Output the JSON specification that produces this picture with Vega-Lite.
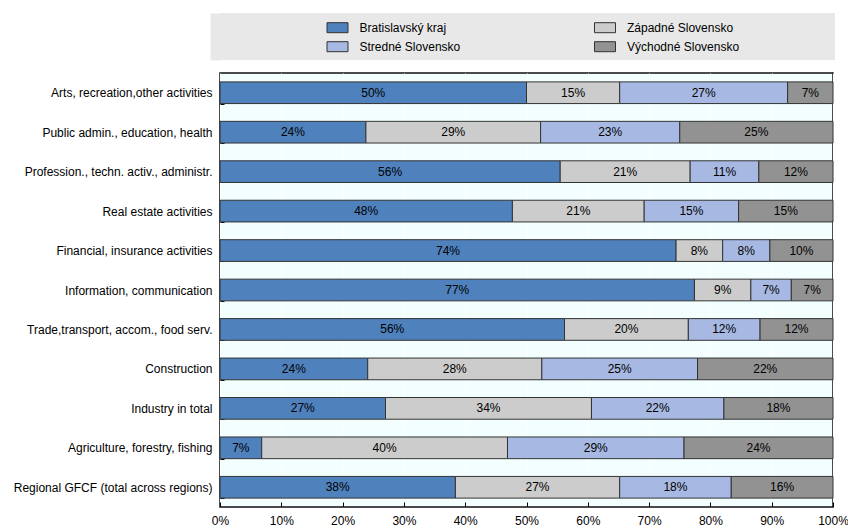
{
  "$schema": "https://vega.github.io/schema/vega-lite/v6.json",
  "background": "white",
  "padding": {"left": 0, "top": 13, "right": 0, "bottom": 0},
  "spacing": 6,
  "config": {
    "font": "Liberation Sans",
    "axis": {"labelFont": "Liberation Sans", "labelFontSize": 12, "labelColor": "#000"},
    "text": {"font": "Liberation Sans", "fontSize": 12, "color": "#000"}
  },
  "datasets": {
    "bars": [
      {"cat": "Arts, recreation,other activities", "region": "Bratislavský kraj", "k": 0, "v": 50.0, "lab": "50%"},
      {"cat": "Arts, recreation,other activities", "region": "Západné Slovensko", "k": 1, "v": 15.2, "lab": "15%"},
      {"cat": "Arts, recreation,other activities", "region": "Stredné Slovensko", "k": 2, "v": 27.4, "lab": "27%"},
      {"cat": "Arts, recreation,other activities", "region": "Východné Slovensko", "k": 3, "v": 7.4, "lab": "7%"},
      {"cat": "Public admin., education, health", "region": "Bratislavský kraj", "k": 0, "v": 23.8, "lab": "24%"},
      {"cat": "Public admin., education, health", "region": "Západné Slovensko", "k": 1, "v": 28.5, "lab": "29%"},
      {"cat": "Public admin., education, health", "region": "Stredné Slovensko", "k": 2, "v": 22.7, "lab": "23%"},
      {"cat": "Public admin., education, health", "region": "Východné Slovensko", "k": 3, "v": 25.0, "lab": "25%"},
      {"cat": "Profession., techn. activ., administr.", "region": "Bratislavský kraj", "k": 0, "v": 55.5, "lab": "56%"},
      {"cat": "Profession., techn. activ., administr.", "region": "Západné Slovensko", "k": 1, "v": 21.2, "lab": "21%"},
      {"cat": "Profession., techn. activ., administr.", "region": "Stredné Slovensko", "k": 2, "v": 11.2, "lab": "11%"},
      {"cat": "Profession., techn. activ., administr.", "region": "Východné Slovensko", "k": 3, "v": 12.1, "lab": "12%"},
      {"cat": "Real estate activities", "region": "Bratislavský kraj", "k": 0, "v": 47.7, "lab": "48%"},
      {"cat": "Real estate activities", "region": "Západné Slovensko", "k": 1, "v": 21.5, "lab": "21%"},
      {"cat": "Real estate activities", "region": "Stredné Slovensko", "k": 2, "v": 15.4, "lab": "15%"},
      {"cat": "Real estate activities", "region": "Východné Slovensko", "k": 3, "v": 15.4, "lab": "15%"},
      {"cat": "Financial, insurance activities", "region": "Bratislavský kraj", "k": 0, "v": 74.4, "lab": "74%"},
      {"cat": "Financial, insurance activities", "region": "Západné Slovensko", "k": 1, "v": 7.6, "lab": "8%"},
      {"cat": "Financial, insurance activities", "region": "Stredné Slovensko", "k": 2, "v": 7.7, "lab": "8%"},
      {"cat": "Financial, insurance activities", "region": "Východné Slovensko", "k": 3, "v": 10.3, "lab": "10%"},
      {"cat": "Information, communication", "region": "Bratislavský kraj", "k": 0, "v": 77.4, "lab": "77%"},
      {"cat": "Information, communication", "region": "Západné Slovensko", "k": 1, "v": 9.2, "lab": "9%"},
      {"cat": "Information, communication", "region": "Stredné Slovensko", "k": 2, "v": 6.6, "lab": "7%"},
      {"cat": "Information, communication", "region": "Východné Slovensko", "k": 3, "v": 6.8, "lab": "7%"},
      {"cat": "Trade,transport, accom., food serv.", "region": "Bratislavský kraj", "k": 0, "v": 56.2, "lab": "56%"},
      {"cat": "Trade,transport, accom., food serv.", "region": "Západné Slovensko", "k": 1, "v": 20.2, "lab": "20%"},
      {"cat": "Trade,transport, accom., food serv.", "region": "Stredné Slovensko", "k": 2, "v": 11.7, "lab": "12%"},
      {"cat": "Trade,transport, accom., food serv.", "region": "Východné Slovensko", "k": 3, "v": 11.9, "lab": "12%"},
      {"cat": "Construction", "region": "Bratislavský kraj", "k": 0, "v": 24.1, "lab": "24%"},
      {"cat": "Construction", "region": "Západné Slovensko", "k": 1, "v": 28.4, "lab": "28%"},
      {"cat": "Construction", "region": "Stredné Slovensko", "k": 2, "v": 25.4, "lab": "25%"},
      {"cat": "Construction", "region": "Východné Slovensko", "k": 3, "v": 22.1, "lab": "22%"},
      {"cat": "Industry in total", "region": "Bratislavský kraj", "k": 0, "v": 27.0, "lab": "27%"},
      {"cat": "Industry in total", "region": "Západné Slovensko", "k": 1, "v": 33.6, "lab": "34%"},
      {"cat": "Industry in total", "region": "Stredné Slovensko", "k": 2, "v": 21.6, "lab": "22%"},
      {"cat": "Industry in total", "region": "Východné Slovensko", "k": 3, "v": 17.8, "lab": "18%"},
      {"cat": "Agriculture, forestry, fishing", "region": "Bratislavský kraj", "k": 0, "v": 6.8, "lab": "7%"},
      {"cat": "Agriculture, forestry, fishing", "region": "Západné Slovensko", "k": 1, "v": 40.1, "lab": "40%"},
      {"cat": "Agriculture, forestry, fishing", "region": "Stredné Slovensko", "k": 2, "v": 28.8, "lab": "29%"},
      {"cat": "Agriculture, forestry, fishing", "region": "Východné Slovensko", "k": 3, "v": 24.3, "lab": "24%"},
      {"cat": "Regional GFCF (total across regions)", "region": "Bratislavský kraj", "k": 0, "v": 38.4, "lab": "38%"},
      {"cat": "Regional GFCF (total across regions)", "region": "Západné Slovensko", "k": 1, "v": 26.8, "lab": "27%"},
      {"cat": "Regional GFCF (total across regions)", "region": "Stredné Slovensko", "k": 2, "v": 18.2, "lab": "18%"},
      {"cat": "Regional GFCF (total across regions)", "region": "Východné Slovensko", "k": 3, "v": 16.6, "lab": "16%"}
    ],
    "legend": [
      {"region": "Bratislavský kraj", "col": 0, "row": 0},
      {"region": "Západné Slovensko", "col": 1, "row": 0},
      {"region": "Stredné Slovensko", "col": 0, "row": 1},
      {"region": "Východné Slovensko", "col": 1, "row": 1}
    ]
  },
  "vconcat": [
    {
      "width": 615,
      "height": 47,
      "view": {"fill": "#E8E8E8", "stroke": null},
      "data": {"name": "legend"},
      "encoding": {
        "x": {"field": "col", "type": "quantitative", "scale": {"domain": [0, 1], "range": [117.5, 385], "nice": false, "zero": false}, "axis": null},
        "y": {"field": "row", "type": "quantitative", "scale": {"domain": [-0.7737, 1.7], "range": [0, 47], "nice": false, "zero": false},
              "axis": {"title": null, "labels": false, "ticks": false, "grid": false, "domain": true, "domainColor": "#E8E8E8", "domainWidth": 10, "offset": 5}}
      },
      "layer": [
        {
          "mark": {"type": "point", "shape": "M-1,-0.476H1V0.476H-1Z", "filled": true, "size": 441, "opacity": 1, "stroke": "#333", "strokeWidth": 1},
          "encoding": {
            "color": {"field": "region", "type": "nominal", "legend": null,
                      "scale": {"domain": ["Bratislavský kraj", "Západné Slovensko", "Stredné Slovensko", "Východné Slovensko"],
                                "range": ["#4F81BD", "#CCCCCC", "#A7B9E3", "#929292"]}}
          }
        },
        {
          "mark": {"type": "text", "align": "left", "baseline": "middle", "dx": 22, "fontSize": 12, "color": "#000"},
          "encoding": {"text": {"field": "region"}}
        }
      ]
    },
    {
      "width": 613,
      "height": 434,
      "view": {"fill": "#F3FFFF", "stroke": "#111", "strokeWidth": 1.5},
      "data": {"name": "bars"},
      "transform": [
        {"stack": "v", "groupby": ["cat"], "sort": [{"field": "k", "order": "ascending"}], "as": ["s0", "s1"]}
      ],
      "encoding": {
        "y": {
          "field": "cat", "type": "nominal",
          "sort": ["Arts, recreation,other activities", "Public admin., education, health", "Profession., techn. activ., administr.", "Real estate activities", "Financial, insurance activities", "Information, communication", "Trade,transport, accom., food serv.", "Construction", "Industry in total", "Agriculture, forestry, fishing", "Regional GFCF (total across regions)"],
          "scale": {"paddingInner": 0.45, "paddingOuter": 0.225},
          "axis": {"title": null, "tickBand": "extent", "tickSize": -4, "tickColor": "#000", "domain": false, "grid": false,
                   "labelPadding": 12, "labelLimit": 400, "minExtent": 219, "maxExtent": 219}
        }
      },
      "layer": [
        {
          "mark": {"type": "bar", "stroke": "#333", "strokeWidth": 1},
          "encoding": {
            "x": {"field": "s0", "type": "quantitative", "scale": {"domain": [0, 100], "nice": false},
                  "axis": {"title": null, "values": [0, 10, 20, 30, 40, 50, 60, 70, 80, 90, 100], "labelExpr": "datum.value + '%'",
                           "tickSize": -5, "tickColor": "#000", "domain": false, "grid": true, "gridColor": "#FFFFFF", "gridWidth": 1,
                           "labelPadding": 13, "labelFlush": false, "labelOverlap": false}},
            "x2": {"field": "s1"},
            "color": {"field": "region", "type": "nominal", "legend": null,
                      "scale": {"domain": ["Bratislavský kraj", "Západné Slovensko", "Stredné Slovensko", "Východné Slovensko"],
                                "range": ["#4F81BD", "#CCCCCC", "#A7B9E3", "#929292"]}}
          }
        },
        {
          "transform": [
            {"fold": ["s0", "s1"], "as": ["which", "sv"]},
            {"stack": "sv", "groupby": ["cat", "k"], "sort": [{"field": "which", "order": "ascending"}], "as": ["t0", "t1"]},
            {"filter": "datum.which === 's1'"}
          ],
          "mark": {"type": "text", "align": "center", "baseline": "middle", "fontSize": 12, "color": "#000"},
          "encoding": {
            "x": {"field": "t1", "type": "quantitative", "scale": {"domain": [0, 200], "nice": false, "zero": true}, "axis": null},
            "text": {"field": "lab"}
          }
        }
      ],
      "resolve": {"scale": {"x": "independent"}}
    }
  ]
}
